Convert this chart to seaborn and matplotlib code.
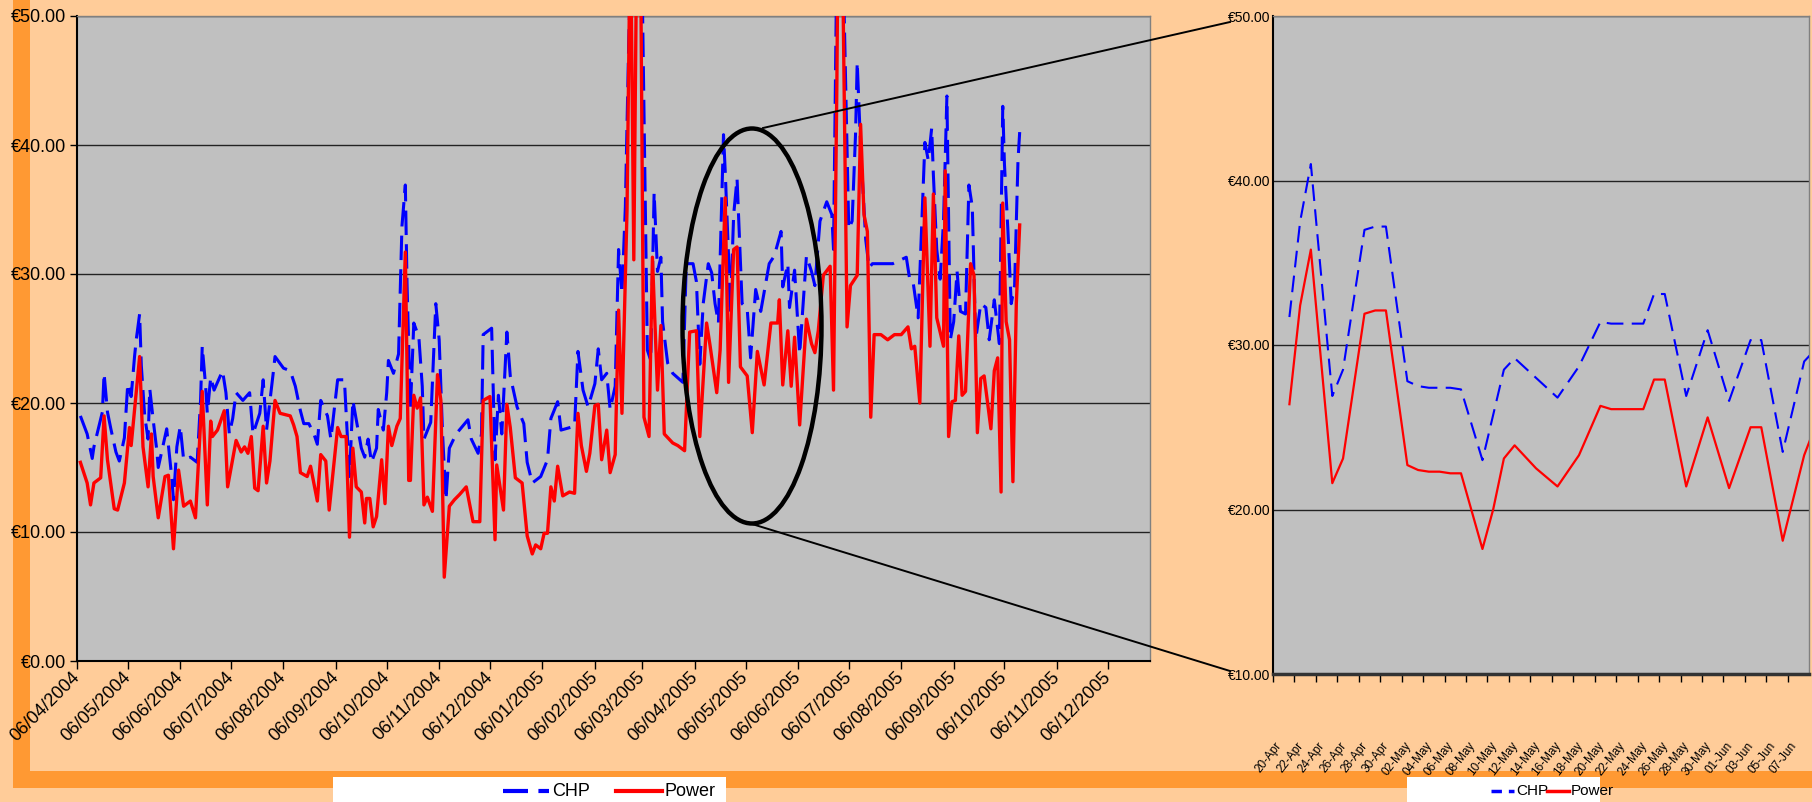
import pandas as pd
import matplotlib
matplotlib.use('Agg')
import matplotlib.pyplot as plt
import matplotlib.dates as mdates
from matplotlib.ticker import MultipleLocator, FuncFormatter, FixedLocator, NullFormatter
from matplotlib.patches import Rectangle, Ellipse
from matplotlib.lines import Line2D
import seaborn as sns
import warnings
warnings.filterwarnings('ignore')

# ---- main chart: day offsets from 06/04/2004, prices in EUR ----
start = pd.Timestamp('2004-04-06')

chp_days = [2, 6, 9, 10, 15, 16, 18, 20, 23, 25, 28, 30, 32, 34, 35, 37, 38, 40, 42, 43,
            45, 47, 48, 50, 53, 56, 57, 59, 61, 63, 67, 71, 73, 74, 76, 77, 79, 81, 86, 88,
            90, 92, 94, 98, 102, 104, 108, 110, 112, 116, 117, 122, 126, 129, 132, 134, 137, 140, 142, 144,
            148, 150, 154, 158, 161, 163, 165, 168, 170, 172, 174, 177, 178, 181, 183, 184, 187, 190, 192, 194,
            195, 197, 199, 202, 204, 205, 209, 212, 214, 216, 218, 220, 224, 231, 233, 237, 239, 240, 245, 247,
            249, 251, 254, 256, 260, 264, 266, 269, 274, 278, 280, 284, 286, 294, 296, 299, 302, 306, 308, 310,
            313, 315, 318, 320, 322, 324, 326, 328, 331, 334, 337, 339, 341, 343, 345, 346, 349, 352, 358, 360,
            364, 366, 368, 370, 373, 375, 377, 379, 380, 382, 383, 385, 386, 388, 390, 391, 393, 396, 398, 401,
            404, 409, 412, 416, 417, 420, 421, 424, 427, 431, 434, 436, 439, 443, 446, 447, 449, 451, 453, 456,
            458, 460, 461, 463, 466, 468, 470, 475, 482, 490, 492, 494, 497, 501, 503, 505, 506, 508, 510, 512,
            514, 516, 518, 520, 522, 525, 527, 529, 531, 534, 537, 539, 542, 545, 547, 548, 550, 552, 554, 556,
            557]
chp_eur = [19.0, 17.6, 15.7, 16.6, 19.3, 22.3, 19.3, 18.0, 16.2, 15.5, 17.3, 21.5, 20.5, 23.6, 24.9, 26.9, 22.9, 19.0, 17.2, 21.1,
           18.7, 16.5, 15.0, 16.2, 18.0, 14.2, 12.5, 16.6, 18.2, 15.6, 15.8, 15.4, 20.2, 24.4, 21.3, 19.2, 22.0, 21.0, 22.5, 20.8,
           17.6, 18.8, 20.8, 20.2, 20.8, 17.6, 19.2, 21.8, 17.9, 22.4, 23.6, 22.7, 22.5, 21.3, 19.4, 18.4, 18.4, 17.6, 16.8, 20.2,
           19.0, 17.2, 21.8, 21.8, 14.3, 20.2, 18.7, 16.5, 15.8, 17.2, 15.4, 16.5, 19.5, 17.9, 20.8, 23.3, 22.3, 23.8, 33.7, 36.9,
           29.3, 19.5, 26.2, 25.1, 21.3, 17.2, 18.5, 27.7, 24.9, 17.6, 12.5, 16.5, 17.6, 18.7, 17.2, 16.1, 17.6, 25.3, 25.8, 15.6,
           20.6, 17.6, 25.5, 22.1, 19.7, 18.4, 15.4, 13.8, 14.3, 15.6, 18.8, 20.1, 17.9, 18.2, 24.0, 21.0, 19.7, 21.5, 24.2, 21.8,
           22.3, 19.5, 21.3, 31.9, 28.5, 35.2, 48.0, 58.0, 60.0, 52.0, 24.1, 23.3, 36.3, 30.2, 31.3, 26.3, 23.1, 22.3, 21.6, 30.8,
           30.8, 29.4, 23.0, 27.7, 30.8, 30.1, 27.7, 26.2, 31.0, 40.8, 38.0, 31.3, 26.9, 34.6, 37.4, 34.1, 27.7, 27.3, 23.5, 28.8,
           27.1, 30.8, 31.4, 33.3, 29.0, 30.8, 27.4, 30.3, 23.8, 31.4, 30.2, 29.1, 34.1, 35.6, 34.6, 31.9, 55.0, 62.0, 52.0, 33.5,
           34.1, 40.8, 46.4, 39.9, 32.7, 30.5, 30.8, 30.8, 30.8, 31.3, 29.6, 29.4, 26.6, 40.2, 38.8, 41.3, 37.7, 31.9, 29.6, 34.1,
           43.8, 24.9, 26.3, 30.2, 27.1, 26.9, 36.9, 35.2, 24.9, 27.7, 27.4, 24.9, 28.0, 24.6, 43.0, 38.5, 33.5, 27.7, 29.1, 38.8,
           41.0]

power_days = [2, 6, 8, 10, 14, 16, 18, 22, 24, 28, 31, 32, 37, 39, 42, 44, 45, 48, 52, 54,
              57, 60, 63, 67, 70, 74, 77, 79, 80, 83, 87, 89, 94, 97, 99, 101, 103, 105, 107, 110,
              112, 114, 117, 120, 126, 128, 130, 132, 136, 138, 142, 144, 147, 149, 154, 156, 159, 161, 163, 165,
              168, 170, 171, 173, 175, 177, 180, 182, 184, 186, 189, 191, 193, 194, 196, 197, 199, 201, 203, 205,
              207, 210, 213, 215, 217, 220, 223, 226, 230, 234, 238, 240, 244, 247, 248, 252, 254, 256, 259, 263,
              266, 269, 271, 274, 276, 278, 280, 282, 284, 287, 291, 294, 296, 298, 301, 303, 306, 308, 310, 313,
              315, 318, 320, 322, 325, 327, 329, 331, 333, 335, 338, 340, 343, 345, 347, 352, 355, 359, 362, 366,
              368, 372, 374, 378, 380, 383, 385, 388, 390, 392, 396, 399, 402, 406, 410, 414, 415, 417, 420, 422,
              424, 427, 431, 434, 436, 438, 441, 445, 447, 449, 450, 452, 455, 457, 461, 463, 465, 467, 469, 471,
              475, 479, 483, 487, 491, 493, 495, 498, 501, 504, 506, 508, 512, 513, 515, 517, 519, 521, 523, 525,
              528, 530, 532, 534, 536, 540, 542, 544, 546, 547, 549, 551, 553, 555, 557]
power_eur = [15.4, 13.8, 12.1, 13.8, 14.2, 19.0, 15.6, 11.8, 11.7, 13.8, 18.1, 16.7, 23.6, 16.6, 13.5, 17.6, 14.3, 11.1, 14.3, 14.4,
             8.7, 14.8, 12.0, 12.4, 11.1, 20.9, 12.1, 18.6, 17.4, 17.9, 19.4, 13.5, 17.1, 16.2, 16.6, 16.1, 17.4, 13.4, 13.2, 18.2,
             13.8, 15.5, 20.2, 19.2, 19.0, 18.3, 17.4, 14.6, 14.3, 15.1, 12.4, 16.0, 15.5, 11.7, 18.1, 17.4, 17.4, 9.6, 16.5, 13.5,
             13.1, 10.7, 12.6, 12.6, 10.4, 11.2, 15.6, 12.2, 18.2, 16.7, 18.2, 18.8, 27.5, 31.7, 14.0, 14.0, 20.6, 19.6, 20.4, 12.1,
             12.7, 11.6, 22.2, 20.2, 6.5, 12.0, 12.5, 12.9, 13.5, 10.8, 10.8, 20.2, 20.5, 9.4, 15.2, 11.7, 19.9, 18.1, 14.2, 13.8,
             9.7, 8.3, 9.0, 8.7, 9.9, 9.9, 13.5, 12.4, 15.1, 12.8, 13.1, 13.0, 19.2, 16.7, 14.7, 16.1, 19.8, 19.9, 15.6, 17.9,
             14.6, 16.0, 27.2, 19.2, 35.0, 58.0, 31.1, 60.0, 55.0, 18.9, 17.4, 31.3, 21.0, 26.0, 17.6, 16.9, 16.7, 16.3, 25.5, 25.6,
             17.4, 26.2, 24.5, 20.8, 24.1, 35.9, 21.6, 31.9, 32.1, 22.8, 22.1, 17.7, 24.0, 21.4, 26.2, 26.2, 28.0, 21.4, 25.6, 21.3,
             25.1, 18.3, 26.5, 24.6, 23.9, 25.6, 29.9, 30.6, 21.0, 45.0, 62.0, 58.0, 25.9, 29.1, 29.9, 41.6, 34.6, 33.3, 18.9, 25.3,
             25.3, 24.9, 25.3, 25.3, 25.9, 24.2, 24.4, 20.0, 35.9, 24.4, 36.2, 26.6, 24.4, 38.0, 17.4, 20.1, 20.2, 25.2, 20.6, 20.9,
             30.8, 29.9, 17.7, 21.9, 22.1, 18.0, 22.5, 23.5, 13.1, 35.5, 26.3, 24.9, 13.9, 27.7, 33.8]

# ---- close-up chart: day index from 20/04/2005 ----
zoom_labels = ['20-Apr', '22-Apr', '24-Apr', '26-Apr', '28-Apr', '30-Apr',
               '02-May', '04-May', '06-May', '08-May', '10-May', '12-May', '14-May', '16-May',
               '18-May', '20-May', '22-May', '24-May', '26-May', '28-May', '30-May',
               '01-Jun', '03-Jun', '05-Jun', '07-Jun']
zoom_chp_days = [0, 1, 2, 4, 5, 7, 8, 9, 11, 12, 13, 14, 15, 16, 18, 20, 21, 23, 25, 27,
                 29, 30, 31, 32, 33, 34, 35, 37, 39, 41, 43, 44, 46, 48, 49]
zoom_chp = [31.7, 37.5, 41.0, 26.9, 28.5, 37.0, 37.2, 37.2, 27.8, 27.5, 27.4, 27.4, 27.4, 27.3, 23.0, 28.5, 29.2, 28.0, 26.8, 28.7,
            31.4, 31.3, 31.3, 31.3, 31.3, 33.1, 33.1, 26.9, 30.9, 26.6, 30.3, 30.3, 23.5, 29.0, 29.7]
zoom_power_days = [0, 1, 2, 4, 5, 7, 8, 9, 11, 12, 13, 14, 15, 16, 18, 19, 20, 21, 23, 25,
                   27, 29, 30, 31, 32, 33, 34, 35, 37, 39, 41, 43, 44, 46, 48, 49]
zoom_power = [26.4, 32.4, 35.8, 21.6, 23.1, 31.9, 32.1, 32.1, 22.7, 22.4, 22.3, 22.3, 22.2, 22.2, 17.6, 20.0, 23.1, 23.9, 22.5, 21.4,
              23.3, 26.3, 26.1, 26.1, 26.1, 26.1, 27.9, 27.9, 21.4, 25.6, 21.3, 25.0, 25.0, 18.1, 23.3, 25.0]

PEACH = '#FFCC99'
ORANGE = '#FF9933'
PLOT_BG = '#C0C0C0'
BLUE = '#0000FF'
RED = '#FF0000'

W, H = 1812, 802
plt.rcParams['font.family'] = ['Liberation Sans', 'DejaVu Sans']
NARROW = ['Liberation Sans Narrow', 'Liberation Sans', 'DejaVu Sans']


def box(x0, y0, x1, y1):
    # pixel box (top-left origin) -> figure fraction rect
    return [x0 / W, 1 - y1 / H, (x1 - x0) / W, (y1 - y0) / H]


fig = plt.figure(figsize=(W / 100, H / 100), dpi=100, facecolor=PEACH)

# orange "shadow" frame
for x0, y0, x1, y1 in [(13, 0, 30, 788), (13, 771, W, 788)]:
    r = box(x0, y0, x1, y1)
    fig.add_artist(Rectangle((r[0], r[1]), r[2], r[3], transform=fig.transFigure,
                             facecolor=ORANGE, edgecolor='none', zorder=0))

# ---------- main chart ----------
ax1 = fig.add_axes(box(77, 16, 1150, 661))
ax1.set_facecolor(PLOT_BG)

main_chp = pd.DataFrame({'date': start + pd.to_timedelta(chp_days, unit='D'), 'eur': chp_eur})
main_power = pd.DataFrame({'date': start + pd.to_timedelta(power_days, unit='D'), 'eur': power_eur})

sns.lineplot(data=main_chp, x='date', y='eur', ax=ax1, color=BLUE, linewidth=2.2,
             estimator=None, zorder=3)
ax1.lines[-1].set_dashes((8, 3))
sns.lineplot(data=main_power, x='date', y='eur', ax=ax1, color=RED, linewidth=2.4,
             estimator=None, zorder=4)

ax1.set_xlim(start, pd.Timestamp('2005-12-31'))
ax1.set_ylim(0, 50)
ax1.set_xlabel('')
ax1.set_ylabel('')
ax1.yaxis.set_major_locator(MultipleLocator(10))
ax1.yaxis.set_major_formatter(FuncFormatter(lambda v, p: f'€{v:.2f}'))
ax1.xaxis.set_major_locator(mdates.MonthLocator(bymonthday=6))
ax1.xaxis.set_major_formatter(mdates.DateFormatter('%d/%m/%Y'))
ax1.grid(axis='y', color='#222222', linewidth=1)
ax1.grid(axis='x', visible=False)
ax1.set_axisbelow(True)
ax1.tick_params(axis='y', direction='out', length=5, width=1, labelsize=13, pad=3)
ax1.tick_params(axis='x', direction='out', length=6, width=1, labelsize=13, pad=4)
for lab in ax1.get_xticklabels():
    lab.set_rotation(45)
    lab.set_ha('right')
    lab.set_va('center')
    lab.set_rotation_mode('anchor')
for side in ['left', 'bottom']:
    ax1.spines[side].set_color('black')
    ax1.spines[side].set_linewidth(1.5)
for side in ['top', 'right']:
    ax1.spines[side].set_color('#808080')
    ax1.spines[side].set_linewidth(1)

# ---------- close-up chart ----------
ax2 = fig.add_axes(box(1273, 16, 1809, 674))
ax2.set_facecolor(PLOT_BG)
sns.lineplot(x=zoom_chp_days, y=zoom_chp, ax=ax2, color=BLUE, linewidth=1.5,
             estimator=None, zorder=3)
ax2.lines[-1].set_dashes((8, 4))
sns.lineplot(x=zoom_power_days, y=zoom_power, ax=ax2, color=RED, linewidth=1.6,
             estimator=None, zorder=4)
ax2.set_xlim(-1.53, 48.45)
ax2.set_ylim(10, 50)
ax2.yaxis.set_major_locator(MultipleLocator(10))
ax2.yaxis.set_major_formatter(FuncFormatter(lambda v, p: f'€{v:.2f}'))
ax2.grid(axis='y', color='#222222', linewidth=1)
ax2.set_axisbelow(True)
ax2.xaxis.set_major_locator(FixedLocator([-1.53 + 2 * k for k in range(26)]))
ax2.xaxis.set_major_formatter(NullFormatter())
ax2.xaxis.set_minor_locator(FixedLocator([-0.9 + 2 * k for k in range(len(zoom_labels))]))
ax2.set_xticklabels(zoom_labels, minor=True)
ax2.tick_params(axis='x', which='major', direction='out', length=6, width=1)
ax2.tick_params(axis='x', which='minor', length=0, pad=50)
ax2.tick_params(axis='y', direction='out', length=0, pad=2)
for lab in ax2.get_xticklabels(minor=True):
    lab.set_rotation(52)
    lab.set_ha('right')
    lab.set_va('center')
    lab.set_rotation_mode('anchor')
    lab.set_fontsize(8.5)
    lab.set_family(NARROW)
for lab in ax2.get_yticklabels():
    lab.set_fontsize(10)
    lab.set_family(NARROW)
ax2.spines['left'].set_color('black')
ax2.spines['left'].set_linewidth(1.5)
ax2.spines['bottom'].set_color('#333333')
ax2.spines['bottom'].set_linewidth(2.5)
for side in ['top', 'right']:
    ax2.spines[side].set_color('#808080')
    ax2.spines[side].set_linewidth(1)

# ---------- ellipse and leader lines ----------
fig.add_artist(Ellipse((752 / W, 1 - 326 / H), 139 / W, 395 / H, transform=fig.transFigure,
                       fill=False, edgecolor='black', linewidth=3.2, zorder=6))
for (xa, ya), (xb, yb) in [((763, 128), (1230, 22)), ((752, 524), (1230, 671))]:
    fig.add_artist(Line2D([xa / W, xb / W], [1 - ya / H, 1 - yb / H], transform=fig.transFigure,
                          color='black', linewidth=1.4, zorder=6))

# ---------- legends ----------
for x0, x1 in [(333, 726), (1407, 1600)]:
    r = box(x0, 777, x1, 802)
    fig.add_artist(Rectangle((r[0], r[1]), r[2], r[3], transform=fig.transFigure,
                             facecolor='white', edgecolor='none', zorder=5))

ly = 1 - 791 / H
fig.add_artist(Line2D([503 / W, 549 / W], [ly, ly], transform=fig.transFigure, color=BLUE,
                      linewidth=3, dashes=(6, 2.5), zorder=7))
fig.text(552 / W, ly, 'CHP', fontsize=13, va='center', ha='left', zorder=7)
fig.add_artist(Line2D([616 / W, 662 / W], [ly, ly], transform=fig.transFigure, color=RED,
                      linewidth=3, zorder=7))
fig.text(665 / W, ly, 'Power', fontsize=13, va='center', ha='left', zorder=7)

fig.add_artist(Line2D([1491 / W, 1514 / W], [ly, ly], transform=fig.transFigure, color=BLUE,
                      linewidth=2.5, dashes=(3, 2), zorder=7))
fig.text(1516 / W, ly, 'CHP', fontsize=11, va='center', ha='left', family=NARROW, zorder=7)
fig.add_artist(Line2D([1547 / W, 1569 / W], [ly, ly], transform=fig.transFigure, color=RED,
                      linewidth=2.5, zorder=7))
fig.text(1571 / W, ly, 'Power', fontsize=11, va='center', ha='left', family=NARROW, zorder=7)

fig.savefig('out.png', dpi=100, facecolor=PEACH)
